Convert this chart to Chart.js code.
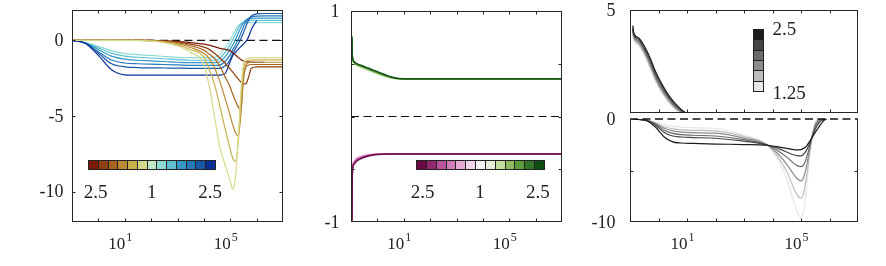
<!DOCTYPE html>
<html><head><meta charset="utf-8">
<script src="https://cdn.jsdelivr.net/npm/chart.js@4/dist/chart.umd.min.js"></script>
<style>
html,body{margin:0;padding:0;background:#fff;}
#wrap{position:relative;width:886px;height:266px;overflow:hidden;font-family:"Liberation Serif",serif;color:#222;}
canvas{position:absolute;left:0;top:0;}
.cb{position:absolute;display:flex;border:1px solid #222;box-sizing:border-box;}
.cb div{flex:1;}
.lbl{position:absolute;font-size:19px;line-height:1;white-space:nowrap;}
</style></head>
<body><div id="wrap">
<canvas id="c1" width="886" height="266"></canvas>
<canvas id="c2" width="886" height="266"></canvas>
<canvas id="c3a" width="886" height="266"></canvas>
<canvas id="c3b" width="886" height="266"></canvas>
</div>
<script>
// ---------------- DATA ----------------
// x grids are given as decimal exponents (x = 10^e)
const X_TICK_EXP = [-1,0,1,2,3,4,5,6,7];
const X_LABEL_EXP = [1,5];

// Panel 1
const P1_EXP = [-1,-0.5,0,0.5,1,1.5,2,2.5,3,3.5,4,4.2,4.4,4.6,4.8,5,5.1,5.2,5.3,5.4,5.5,5.6,5.7,5.8,6,6.3,7];
const P1_BROWN1 = [0,0,0,0,0,-0.005,-0.01,-0.03,-0.07,-0.15,-0.25,-0.32,-0.42,-0.53,-0.6,-0.7,-0.82,-0.97,-1.13,-1.27,-1.37,-1.42,-1.43,-1.44,-1.45,-1.45,null];
const P1_BROWN2 = [0,0,0,0,0,-0.005,-0.01,-0.05,-0.1,-0.25,-0.45,-0.6,-0.85,-1.15,-1.5,-1.9,-2.1,-2.35,-2.55,-2.75,-2.88,-2.85,-2.4,-1.85,-1.75,-1.75,-1.75];
const P1_BROWN3 = [0,0,0,0,0,-0.005,-0.02,-0.07,-0.16,-0.36,-0.65,-0.9,-1.2,-1.7,-2.4,-3.1,-3.6,-4.0,-4.4,-4.6,-2.6,-1.75,-1.63,-1.6,-1.6,-1.6,-1.6];
const P1_BROWN4 = [0,0,0,0,0,-0.01,-0.03,-0.1,-0.22,-0.48,-0.85,-1.2,-1.8,-2.7,-3.8,-5.0,-5.6,-6.1,-6.3,-5.0,-2.4,-1.6,-1.48,-1.45,-1.45,-1.45,-1.45];
const P1_BROWN5 = [0,0,0,0,0,-0.01,-0.04,-0.12,-0.3,-0.62,-1.1,-1.9,-2.9,-4.3,-5.8,-7.2,-7.8,-8.0,-6.8,-4.0,-1.9,-1.4,-1.32,-1.3,-1.3,-1.3,-1.3];
const P1_BROWN6 = [0,0,0,0,0,-0.02,-0.05,-0.15,-0.38,-0.8,-1.6,-3.0,-5.0,-7.0,-8.2,-9.3,-9.85,-9.0,-6.5,-3.5,-1.6,-1.25,-1.18,-1.15,-1.15,-1.15,-1.15];
const P1_BLUE1 = [0,-0.15,-0.4,-0.68,-0.88,-0.95,-1.0,-1.07,-1.13,-1.15,-1.15,-1.15,-1.13,-0.95,-0.5,0.0,0.35,0.7,0.95,1.1,1.15,1.17,1.17,1.17,1.17,1.17,1.17];
const P1_BLUE2 = [0,-0.16,-0.5,-0.85,-1.05,-1.12,-1.17,-1.22,-1.28,-1.32,-1.32,-1.32,-1.32,-1.2,-0.8,-0.3,0.05,0.4,0.8,1.05,1.2,1.28,1.31,1.32,1.32,1.32,1.32];
const P1_BLUE3 = [0,-0.17,-0.62,-1.05,-1.25,-1.32,-1.36,-1.4,-1.45,-1.48,-1.48,-1.48,-1.48,-1.42,-1.1,-0.6,-0.3,0.05,0.45,0.85,1.15,1.35,1.42,1.45,1.46,1.46,1.46];
const P1_BLUE4 = [0,-0.18,-0.75,-1.3,-1.5,-1.55,-1.58,-1.6,-1.63,-1.66,-1.66,-1.66,-1.66,-1.64,-1.4,-0.95,-0.6,-0.3,0.05,0.45,0.9,1.25,1.45,1.55,1.6,1.61,1.61];
const P1_BLUE5 = [0,-0.19,-0.85,-1.55,-1.75,-1.8,-1.82,-1.83,-1.84,-1.85,-1.85,-1.85,-1.85,-1.85,-1.7,-1.25,-0.85,-0.55,-0.25,0.1,0.5,0.95,1.35,1.6,1.75,1.77,1.77];
const P1_BLUE6 = [0,-0.2,-1.0,-1.95,-2.28,-2.3,-2.3,-2.3,-2.3,-2.3,-2.3,-2.3,-2.3,-2.3,-2.2,-1.4,-1.0,-0.8,-0.6,-0.42,-0.25,-0.06,0.25,0.72,1.3,null,null];
const P1_CB_COLORS = ['#7a1a0a','#8f3f12','#a5651f','#b88a33','#c9b14f','#d6d88a','#bde8c3','#8edad3','#5ebfd0','#3498c6','#2479b8','#1a58a8','#0a2f96'];

// Panel 2
const P2_EXP = [-0.96,-0.955,-0.94,-0.92,-0.88,-0.8,-0.6,-0.4,-0.2,0,0.2,0.4,0.6,0.8,1,2,4,6,7];
const P2_GREEN1 = [0.685,0.58,0.533,0.51,0.498,0.48,0.46,0.44,0.42,0.401,0.384,0.369,0.359,0.356,0.356,0.356,0.356,0.356,0.356];
const P2_GREEN2 = [0.7,0.59,0.54,0.515,0.503,0.485,0.465,0.445,0.425,0.406,0.388,0.372,0.361,0.356,0.356,0.356,0.356,0.356,0.356];
const P2_GREEN3 = [0.715,0.6,0.546,0.52,0.508,0.49,0.47,0.45,0.43,0.411,0.392,0.375,0.363,0.357,0.356,0.356,0.356,0.356,0.356];
const P2_GREEN4 = [0.73,0.61,0.553,0.525,0.513,0.495,0.475,0.455,0.435,0.416,0.396,0.378,0.365,0.358,0.356,0.356,0.356,0.356,0.356];
const P2_GREEN5 = [0.745,0.62,0.56,0.53,0.518,0.5,0.48,0.46,0.44,0.421,0.401,0.382,0.368,0.359,0.356,0.356,0.356,0.356,0.356];
const P2_GREEN6 = [0.76,0.63,0.565,0.535,0.522,0.505,0.485,0.465,0.445,0.426,0.406,0.386,0.371,0.361,0.357,0.356,0.356,0.356,0.356];
const P2_MAG1 = [-0.9,-0.65,-0.47,-0.434,-0.42,-0.393,-0.372,-0.361,-0.356,-0.355,-0.355,-0.355,-0.355,-0.355,-0.355,-0.355,-0.355,-0.355,-0.355];
const P2_MAG2 = [-0.92,-0.67,-0.48,-0.441,-0.427,-0.4,-0.377,-0.364,-0.358,-0.355,-0.355,-0.355,-0.355,-0.355,-0.355,-0.355,-0.355,-0.355,-0.355];
const P2_MAG3 = [-0.94,-0.69,-0.49,-0.448,-0.434,-0.407,-0.382,-0.368,-0.36,-0.356,-0.355,-0.355,-0.355,-0.355,-0.355,-0.355,-0.355,-0.355,-0.355];
const P2_MAG4 = [-0.96,-0.71,-0.5,-0.455,-0.441,-0.414,-0.387,-0.372,-0.362,-0.357,-0.356,-0.355,-0.355,-0.355,-0.355,-0.355,-0.355,-0.355,-0.355];
const P2_MAG5 = [-0.98,-0.73,-0.51,-0.462,-0.448,-0.421,-0.392,-0.376,-0.365,-0.359,-0.357,-0.355,-0.355,-0.355,-0.355,-0.355,-0.355,-0.355,-0.355];
const P2_MAG6 = [-1.0,-0.75,-0.52,-0.47,-0.455,-0.428,-0.398,-0.38,-0.368,-0.361,-0.358,-0.356,-0.355,-0.355,-0.355,-0.355,-0.355,-0.355,-0.355];
const P2_CB_COLORS = ['#6a0a45','#92286f','#b8529a','#d27fb9','#e6abd4','#f2d7ea','#f4f2f2','#e3efd6','#c3dd9f','#8fbc63','#5c9a3c','#33762a','#0d4d0f'];

// Panel 3 (top)
const P3T_EXP = [-0.9,-0.88,-0.7,-0.5,-0.3,-0.1,0.1,0.3,0.5,0.7,0.9,1.0];
const P3T_G1 = [3.85,3.6,3.27,2.8,2.17,1.5,1.0,0.6,0.28,0.06,0,null];
const P3T_G2 = [3.92,3.68,3.35,2.9,2.27,1.6,1.08,0.67,0.34,0.1,0,null];
const P3T_G3 = [4.0,3.75,3.42,2.98,2.37,1.68,1.16,0.74,0.4,0.15,0,null];
const P3T_G4 = [4.08,3.82,3.5,3.07,2.47,1.78,1.25,0.82,0.46,0.2,0.01,0];
const P3T_G5 = [4.15,3.88,3.58,3.15,2.58,1.88,1.35,0.9,0.53,0.25,0.03,0];
const P3T_G6 = [4.25,3.95,3.65,3.25,2.7,2.0,1.45,0.98,0.6,0.3,0.06,0];
// Panel 3 (bottom)
const P3B_EXP = [-0.9,-0.7,-0.4,-0.1,0.2,0.5,0.8,1.2,2,3,3.8,4.2,4.5,4.7,4.85,5.0,5.1,5.2,5.3,5.4,5.5,5.6,5.7,5.8,5.9,7];
const P3B_G1 = [0,-0.02,-0.1,-0.3,-0.55,-0.72,-0.8,-0.85,-0.9,-1.55,-2.5,-4.0,-5.8,-7.6,-8.9,-9.6,-8.8,-6.5,-3.8,-1.6,-0.3,0,null,null,null,null];
const P3B_G2 = [0,-0.03,-0.12,-0.4,-0.75,-0.95,-1.05,-1.1,-1.16,-1.7,-2.5,-3.7,-5.1,-6.4,-7.3,-7.68,-7.1,-5.5,-3.3,-1.5,-0.45,-0.05,0,null,null,null];
const P3B_G3 = [0,-0.03,-0.13,-0.45,-0.9,-1.15,-1.28,-1.33,-1.38,-1.85,-2.5,-3.4,-4.4,-5.2,-5.75,-6.0,-5.6,-4.5,-3.0,-1.6,-0.6,-0.15,0,null,null,null];
const P3B_G4 = [0,-0.04,-0.14,-0.5,-1.1,-1.4,-1.52,-1.58,-1.65,-2.0,-2.5,-3.1,-3.7,-4.2,-4.5,-4.62,-4.4,-3.7,-2.7,-1.6,-0.75,-0.3,-0.05,0,null,null];
const P3B_G5 = [0,-0.04,-0.15,-0.6,-1.3,-1.65,-1.75,-1.8,-1.87,-2.15,-2.5,-2.85,-3.2,-3.45,-3.55,-3.58,-3.4,-3.0,-2.4,-1.7,-1.0,-0.5,-0.18,-0.03,0,null];
const P3B_G6 = [0,-0.05,-0.2,-0.8,-1.75,-2.22,-2.33,-2.37,-2.43,-2.48,-2.55,-2.7,-2.85,-2.95,-3.0,-2.98,-2.85,-2.6,-2.2,-1.75,-1.3,-0.9,-0.5,-0.15,0,null];
const P3_GRAYS = ['#e6e6e6','#bdbdbd','#8c8c8c','#6b6b6b','#454545','#1c1c1c'];

// ---------------- BUILD ----------------
const AXIS = '#262626', TEXT = '#222';
const W = 886, H = 266;
function pts(ex, ys){ return ex.map((e,i)=>({x: Math.pow(10,e), y: ys[i]})); }
function line(ex, ys, color, order, w){ return {data: pts(ex, ys), borderColor: color, borderWidth: w||1.2, order: order, fill:false}; }
function zeroLine(order, w){ return {data:[{x:0.1,y:0},{x:1e7,y:0}], borderColor:'#111', borderWidth:w||1.2, borderDash:[8,4.5], order: order, cubicInterpolationMode:'default', tension:0, clip:false}; }

function frame(o){
  return {id:'frame', afterDraw(chart){
    const ctx = chart.ctx, a = chart.chartArea, xs = chart.scales.x, ys = chart.scales.y;
    const L = Math.round(a.left)+0.5, R = Math.round(a.right)-0.5, T = Math.round(a.top)+0.5, B = Math.round(a.bottom)-0.5;
    const TL = 3;
    ctx.save();
    ctx.strokeStyle = AXIS; ctx.lineWidth = 1; ctx.setLineDash([]);
    ctx.beginPath();
    ctx.moveTo(L,B); ctx.lineTo(R,B); ctx.moveTo(L,T-0.5); ctx.lineTo(L,B+0.5); ctx.moveTo(R,T-0.5); ctx.lineTo(R,B+0.5);
    if (o.topBorder) { ctx.moveTo(L,T); ctx.lineTo(R,T); }
    X_TICK_EXP.forEach(e=>{
      const px = Math.round(xs.getPixelForValue(Math.pow(10,e)))+0.5;
      if (px < L+1 || px > R-1) return;
      ctx.moveTo(px,B); ctx.lineTo(px,B-TL);
      if (o.topBorder) { ctx.moveTo(px,T); ctx.lineTo(px,T+TL); }
    });
    o.yTicks.forEach(v=>{
      const py = Math.round(ys.getPixelForValue(v))+0.5;
      if (py < T+1 || py > B-1) return;
      ctx.moveTo(L,py); ctx.lineTo(L+TL,py); ctx.moveTo(R,py); ctx.lineTo(R-TL,py);
    });
    ctx.stroke();
    ctx.fillStyle = TEXT;
    ctx.font = '18px "Liberation Serif"';
    ctx.textAlign = 'right'; ctx.textBaseline = 'middle';
    o.yLabels.forEach(([v,t])=>{ ctx.fillText(t, a.left - o.yGap, ys.getPixelForValue(v)+1); });
    if (o.xLabels) {
      ctx.textBaseline = 'alphabetic';
      X_LABEL_EXP.forEach(e=>{
        const px = xs.getPixelForValue(Math.pow(10,e));
        ctx.font = '17px "Liberation Serif"'; ctx.textAlign = 'right';
        ctx.fillText('10', px+0.5, 248.5);
        ctx.font = '12px "Liberation Serif"'; ctx.textAlign = 'left';
        ctx.fillText(String(e), px+1.5, 240.5);
      });
    }
    ctx.restore();
  }};
}

function makeChart(id, area, ymin, ymax, datasets, fopts){
  return new Chart(document.getElementById(id), {
    type:'line',
    data:{datasets},
    options:{
      responsive:false, animation:false, devicePixelRatio:1,
      layout:{padding:{left:area[0], top:area[1], right:W-area[2], bottom:H-area[3]}},
      plugins:{legend:{display:false}, tooltip:{enabled:false}},
      elements:{point:{radius:0}, line:{cubicInterpolationMode:'monotone', borderCapStyle:'butt'}},
      scales:{
        x:{type:'logarithmic', min:0.1, max:1e7, display:false},
        y:{type:'linear', min:ymin, max:ymax, display:false}
      }
    },
    plugins:[frame(fopts)]
  });
}

// Panel 1
const c = P1_CB_COLORS;
makeChart('c1', [72,10,283,222], -12, 2, [
  line(P1_EXP, P1_BROWN1, c[0], 6), line(P1_EXP, P1_BROWN2, c[1], 5), line(P1_EXP, P1_BROWN3, c[2], 4),
  line(P1_EXP, P1_BROWN4, c[3], 3), line(P1_EXP, P1_BROWN5, c[4], 2), line(P1_EXP, P1_BROWN6, c[5], 1),
  line(P1_EXP, P1_BLUE1, c[7], 12), line(P1_EXP, P1_BLUE2, c[8], 11), line(P1_EXP, P1_BLUE3, c[9], 10),
  line(P1_EXP, P1_BLUE4, c[10], 9), line(P1_EXP, P1_BLUE5, c[11], 8), line(P1_EXP, P1_BLUE6, c[12], 7),
  zeroLine(20)
], {topBorder:true, yTicks:[-10,-5,0], yLabels:[[0,'0'],[-5,'-5'],[-10,'-10']], yGap:8.5, xLabels:true});

// Panel 2
const p = P2_CB_COLORS;
makeChart('c2', [351,11,562,222], -1, 1, [
  line(P2_EXP, P2_GREEN6, p[12], 1), line(P2_EXP, P2_GREEN5, p[11], 2), line(P2_EXP, P2_GREEN4, p[10], 3),
  line(P2_EXP, P2_GREEN3, p[9], 4), line(P2_EXP, P2_GREEN2, p[8], 5), line(P2_EXP, P2_GREEN1, p[7], 6),
  line(P2_EXP, P2_MAG6, p[0], 1), line(P2_EXP, P2_MAG5, p[1], 2), line(P2_EXP, P2_MAG4, p[2], 3),
  line(P2_EXP, P2_MAG3, p[3], 4), line(P2_EXP, P2_MAG2, p[4], 5), line(P2_EXP, P2_MAG1, p[5], 6),
  zeroLine(10)
], {topBorder:true, yTicks:[-1,-0.5,0,0.5,1], yLabels:[[1,'1'],[-1,'-1']], yGap:11.5, xLabels:true});

// Panel 3
const g = P3_GRAYS;
makeChart('c3a', [630,10,858,113], 0, 5, [
  line(P3T_EXP, P3T_G6, g[5], 1), line(P3T_EXP, P3T_G5, g[4], 2), line(P3T_EXP, P3T_G4, g[3], 3),
  line(P3T_EXP, P3T_G3, g[2], 4), line(P3T_EXP, P3T_G2, g[1], 5), line(P3T_EXP, P3T_G1, g[0], 6)
], {topBorder:true, yTicks:[0,5], yLabels:[[5,'5']], yGap:14.5, xLabels:false});
makeChart('c3b', [630,119,858,222], -10, 0, [
  line(P3B_EXP, P3B_G6, g[5], 1), line(P3B_EXP, P3B_G5, g[4], 2), line(P3B_EXP, P3B_G4, g[3], 3),
  line(P3B_EXP, P3B_G3, g[2], 4), line(P3B_EXP, P3B_G2, g[1], 5), line(P3B_EXP, P3B_G1, g[0], 6),
  zeroLine(0, 1.6)
], {topBorder:false, yTicks:[-10,-5,0], yLabels:[[0,'0'],[-10,'-10']], yGap:14.5, xLabels:true});

// ---------------- COLORBARS ----------------
const wrap = document.getElementById('wrap');
function colorbar(colors, left, top, w, h, vertical){
  const d = document.createElement('div'); d.className = 'cb';
  Object.assign(d.style, {left:left+'px', top:top+'px', width:w+'px', height:h+'px', flexDirection: vertical?'column':'row'});
  colors.forEach((col,i)=>{
    const s = document.createElement('div'); s.style.background = col;
    if (i < colors.length-1) { if (vertical) s.style.borderBottom='1px solid #222'; else s.style.borderRight='1px solid #222'; }
    d.appendChild(s);
  });
  wrap.appendChild(d);
}
function label(text, x, y, align){
  const s = document.createElement('div'); s.className='lbl'; s.textContent = text;
  s.style.left = x+'px'; s.style.top = y+'px';
  s.style.transform = align==='left' ? 'translate(0,-50%)' : 'translate(-50%,-50%)';
  wrap.appendChild(s);
}
colorbar(P1_CB_COLORS, 88, 160, 128, 10, false);
label('2.5', 95.5, 190.5); label('1', 151.7, 190.5); label('2.5', 210, 190.5);
colorbar(P2_CB_COLORS, 416, 160, 129, 10, false);
label('2.5', 422.5, 190.5); label('1', 480, 190.5); label('2.5', 537.8, 190.5);
colorbar(P3_GRAYS.slice().reverse(), 753, 29, 11, 63, true);
label('2.5', 772.5, 27.5, 'left'); label('1.25', 772.5, 92, 'left');
</script>
</body></html>
